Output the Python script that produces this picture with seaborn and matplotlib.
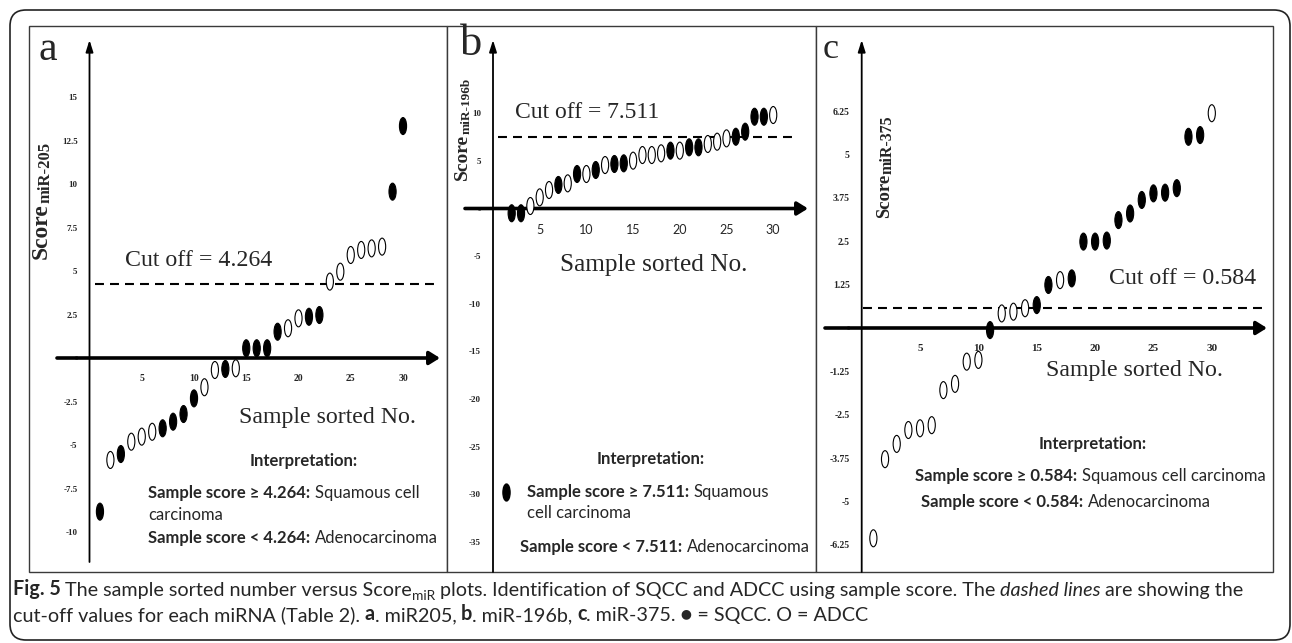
import numpy as np
import pandas as pd
import matplotlib
matplotlib.use("Agg")
import matplotlib.pyplot as plt
import seaborn as sns
from matplotlib.path import Path
from matplotlib.patches import Rectangle, FancyBboxPatch
from matplotlib.transforms import IdentityTransform
from matplotlib.lines import Line2D

# ---------------- data ----------------
a_sample = list(range(1, 31))
a_score = [-8.83, -5.86, -5.52, -4.81, -4.52, -4.24, -4.04, -3.66, -3.22, -2.32,
           -1.68, -0.69, -0.63, -0.59, 0.56, 0.56, 0.56, 1.51, 1.71, 2.28,
           2.37, 2.47, 4.39, 4.96, 5.92, 6.21, 6.30, 6.40, 9.56, 13.33]
a_type = list("SASAAASSSSAASASSSSAASSAAAAAASS")
a_cutoff = 4.264
a_yticks = [-10, -7.5, -5, -2.5, 0, 2.5, 5, 7.5, 10, 12.5, 15]
a_xticks = [5, 10, 15, 20, 25, 30]

b_sample = list(range(2, 31))
b_score = [-0.5, -0.5, 0.26, 1.17, 1.94, 2.47, 2.64, 3.62, 3.62, 4.04,
           4.56, 4.67, 4.74, 5.02, 5.61, 5.61, 5.79, 6.07, 6.07, 6.42,
           6.42, 6.77, 7.01, 7.36, 7.53, 8.06, 9.63, 9.63, 9.81]
b_type = list("SSAAASASASASSAAAASASSAAASSSSA")
b_cutoff = 7.511
b_yticks = [-35, -30, -25, -20, -15, -10, -5, 0, 5, 10]
b_xticks = [5, 10, 15, 20, 25, 30]

c_sample = list(range(1, 31))
c_score = [-6.06, -3.78, -3.34, -2.94, -2.89, -2.80, -1.79, -1.61, -0.97, -0.92,
           -0.06, 0.42, 0.47, 0.57, 0.66, 1.24, 1.38, 1.43, 2.49, 2.49,
           2.52, 3.11, 3.30, 3.69, 3.88, 3.90, 4.03, 5.51, 5.56, 6.19]
c_type = list("AAAAAAAAAASAAASSASSSSSSSSSSSSA")
c_cutoff = 0.584
c_yticks = [-6.25, -5, -3.75, -2.5, -1.25, 0, 1.25, 2.5, 3.75, 5, 6.25]
c_xticks = [5, 10, 15, 20, 25, 30]

type_names = {"S": "SQCC", "A": "ADCC"}

# ---------------- style ----------------
sns.set_style("white")
SERIF = ["Liberation Serif", "DejaVu Serif"]
SANS = ["Lato", "DejaVu Sans"]
plt.rcParams["font.family"] = SANS

W, H = 1292, 643
fig = plt.figure(figsize=(W / 100, H / 100), dpi=100)


def fx(x):
    return x / W


def fy(y):
    return 1 - y / H


circ = Path.unit_circle()
ellipse = Path(circ.vertices * np.array([0.42, 1.0]), circ.codes)

panels = [
    dict(sample=a_sample, score=a_score, types=a_type, cutoff=a_cutoff,
         yticks=a_yticks, xticks=a_xticks, letter="a", sub="miR-205",
         box=(29, 26, 447, 572), x0=89.5, sx=10.45, y0=358, sy=17.4,
         xaxis=(57, 440), yaxis=(562, 40), cutx=(95, 437),
         letter_pos=(48, 50, 30), score_pos=(41, 231, 17, 12),
         cut_pos=(125, 260, 17.2), xlabel_pos=(239, 417, 17.2), interp_pos=(250, 461),
         lines=[(148, 493, "Sample score \u2265 {c}:", "Squamous cell"),
                (148, 515, None, "carcinoma"),
                (148, 538, "Sample score < {c}:", "Adenocarcinoma")],
         ytfs=6.5, xtick_style=dict(family=SERIF, weight="bold", size=7), xpad=11.5),
    dict(sample=b_sample, score=b_score, types=b_type, cutoff=b_cutoff,
         yticks=b_yticks, xticks=b_xticks, letter="b", sub="miR-196b",
         box=(447, 26, 816, 572), x0=493, sx=9.34, y0=208.5, sy=9.53,
         xaxis=(465, 808), yaxis=(572, 40), cutx=(498, 793),
         letter_pos=(471, 44, 32), score_pos=(462, 157, 14, 9.5),
         cut_pos=(515, 113, 17), xlabel_pos=(560, 265, 18.2), interp_pos=(597, 459),
         lines=[(527, 492, "Sample score \u2265 {c}:", "Squamous"),
                (527, 513, None, "cell carcinoma"),
                (520, 547, "Sample score < {c}:", "Adenocarcinoma")],
         ytfs=6.5, xtick_style=dict(family=SANS, weight="normal", size=9), xpad=11),
    dict(sample=c_sample, score=c_score, types=c_type, cutoff=c_cutoff,
         yticks=c_yticks, xticks=c_xticks, letter="c", sub="miR-375",
         box=(816, 26, 1273, 572), x0=861.7, sx=11.67, y0=328, sy=34.7,
         xaxis=(825, 1267), yaxis=(572, 40), cutx=(863, 1263),
         letter_pos=(831, 50, 26), score_pos=(885, 196, 13.5, 11.5),
         cut_pos=(1109, 279, 17.2), xlabel_pos=(1046, 371, 17.2), interp_pos=(1039, 444),
         lines=[(915, 476, "Sample score \u2265 {c}:", "Squamous cell carcinoma"),
                (921, 502, "Sample score < {c}:", "Adenocarcinoma")],
         ytfs=7, xtick_style=dict(family=SERIF, weight="bold", size=8), xpad=11.5),
]

IFS = 12  # interpretation font size

axes = []
for p in panels:
    L, T, R, B = p["box"]
    ax = fig.add_axes([fx(L), fy(B), (R - L) / W, (B - T) / H])
    axes.append(ax)
    x0, sx, y0, sy = p["x0"], p["sx"], p["y0"], p["sy"]
    dx = lambda px: (px - x0) / sx
    dy = lambda py: (y0 - py) / sy
    ax.set_xlim(dx(L), dx(R))
    ax.set_ylim(dy(B), dy(T))

    df = pd.DataFrame({"sample": p["sample"], "score": p["score"],
                       "type": [type_names[t] for t in p["types"]]})
    sns.scatterplot(data=df, x="sample", y="score", hue="type",
                    palette={"SQCC": "black", "ADCC": "white"},
                    marker=ellipse, s=150, edgecolor="black", linewidth=0.8,
                    legend=False, ax=ax, zorder=5)
    ax.set_xlabel("")
    ax.set_ylabel("")

    for sp in ax.spines.values():
        sp.set_visible(False)
    ax.spines["left"].set_position(("data", 0))
    ax.spines["bottom"].set_position(("data", 0))
    ax.add_patch(Rectangle((0, 0), 1, 1, transform=ax.transAxes, fill=False,
                           lw=1.0, ec="#3a3a3a", clip_on=False, zorder=1))

    # axis lines with arrows
    ax.annotate("", xy=(dx(p["xaxis"][1]), 0), xytext=(dx(p["xaxis"][0]), 0),
                arrowprops=dict(arrowstyle="-|>,head_length=0.45,head_width=0.28",
                                mutation_scale=14, lw=2.6, color="black",
                                shrinkA=0, shrinkB=0),
                annotation_clip=False, zorder=3)
    ax.annotate("", xy=(0, dy(p["yaxis"][1])), xytext=(0, dy(p["yaxis"][0])),
                arrowprops=dict(arrowstyle="-|>,head_length=0.7,head_width=0.22",
                                mutation_scale=10, lw=1.3, color="black",
                                shrinkA=0, shrinkB=0),
                annotation_clip=False, zorder=3)

    # cutoff line
    ax.plot([dx(p["cutx"][0]), dx(p["cutx"][1])], [p["cutoff"], p["cutoff"]],
            color="black", lw=1.5, ls=(0, (4.3, 2.9)), zorder=4)

    # ticks
    ax.set_yticks(p["yticks"])
    ax.set_yticklabels(["%g" % v for v in p["yticks"]])
    ax.set_xticks(p["xticks"])
    ax.set_xticklabels(["%g" % v for v in p["xticks"]])
    ax.tick_params(axis="both", length=0)
    ax.tick_params(axis="y", pad=8.6)
    ax.tick_params(axis="x", pad=p["xpad"])
    for t in ax.get_yticklabels():
        t.set_fontfamily(SERIF)
        t.set_fontweight("bold")
        t.set_fontsize(p["ytfs"] if t.get_text() != "0" else 4.5)
    for t in ax.get_xticklabels():
        t.set_fontfamily(p["xtick_style"]["family"])
        t.set_fontweight(p["xtick_style"]["weight"])
        t.set_fontsize(p["xtick_style"]["size"])

    # panel letter
    lx, ly, lfs = p["letter_pos"]
    fig.text(fx(lx), fy(ly), p["letter"], ha="center", va="center",
             family=SERIF, size=lfs)

    # y label: Score + subscript
    sx_, sy_, sfs, subfs = p["score_pos"]
    st = fig.text(fx(sx_), fy(sy_), "Score", rotation=90, ha="center", va="center",
                  family=SERIF, weight="bold", size=sfs)
    ax.annotate(p["sub"], xy=(1, 1), xycoords=st, xytext=(1.8, 0),
                textcoords="offset points", rotation=90, ha="right", va="bottom",
                family=SERIF, weight="bold", size=subfs)

    # cut off text
    cx, cy, cfs = p["cut_pos"]
    fig.text(fx(cx), fy(cy), "Cut off = %s" % p["cutoff"], ha="left", va="center",
             family=SERIF, size=cfs)
    # x label
    xlx, xly, xlfs = p["xlabel_pos"]
    fig.text(fx(xlx), fy(xly), "Sample sorted No.", ha="left", va="center",
             family=SERIF, size=xlfs)
    # interpretation
    ix, iy = p["interp_pos"]
    fig.text(fx(ix), fy(iy), "Interpretation:", ha="left", va="center",
             family=SANS, weight="bold", size=IFS)
    for (tx, ty, bold, normal) in p["lines"]:
        if bold is None:
            fig.text(fx(tx), fy(ty), normal, ha="left", va="center",
                     family=SANS, size=IFS)
        else:
            bt = fig.text(fx(tx), fy(ty), bold.format(c=p["cutoff"]), ha="left",
                          va="center", family=SANS, weight="bold", size=IFS)
            ax.annotate(normal, xy=(1, 0), xycoords=bt, xytext=(3.2, 0),
                        textcoords="offset points", ha="left", va="bottom",
                        family=SANS, size=IFS)

# legend-like key in panel b
key = Line2D([], [], marker=ellipse, markersize=12.2, color="black", ls="none")
axes[1].legend(handles=[key], labels=[""], loc="center",
               bbox_to_anchor=(fx(506), fy(493)), bbox_transform=fig.transFigure,
               frameon=False, handlelength=1.0, handletextpad=0, borderpad=0,
               borderaxespad=0)

# outer rounded border
fig.add_artist(FancyBboxPatch((10, 3), 1280, 630,
                              boxstyle="round,pad=0,rounding_size=16",
                              transform=IdentityTransform(), fill=False,
                              lw=1.2, ec="#222222"))

# caption
CFS = 14.2
def chain(x, y, pieces):
    s0, kw0 = pieces[0][0], pieces[0][1]
    t = fig.text(fx(x), fy(y), s0, ha="left", va="baseline",
                 **{"family": SANS, "size": CFS, **kw0})
    for s, kw, gap, ddy in pieces[1:]:
        t = axes[0].annotate(s, xy=(1, 0), xycoords=t,
                             xytext=(gap * 0.72, -ddy * 0.72),
                             textcoords="offset points", ha="left", va="bottom",
                             annotation_clip=False,
                             **{"family": SANS, "size": CFS, **kw})
    return t

SP = 4.5
chain(13, 595, [
    ("Fig. 5", dict(weight="bold")),
    ("The sample sorted number versus Score", {}, SP, 0),
    ("miR", dict(size=CFS * 0.7), 0, 3),
    ("plots. Identification of SQCC and ADCC using sample score. The", {}, SP, -3),
    ("dashed lines", dict(style="italic"), SP, 0),
    ("are showing the", {}, SP, 0),
])
chain(13, 621, [
    ("cut-off values for each miRNA (Table 2).", {}),
    ("a", dict(weight="bold"), SP, 0),
    (". miR205,", {}, 0, 0),
    ("b", dict(weight="bold"), SP, 0),
    (". miR-196b,", {}, 0, 0),
    ("c", dict(weight="bold"), SP, 0),
    (". miR-375. \u25cf = SQCC. O = ADCC", {}, 0, 0),
])

fig.savefig("out.png", dpi=100)
